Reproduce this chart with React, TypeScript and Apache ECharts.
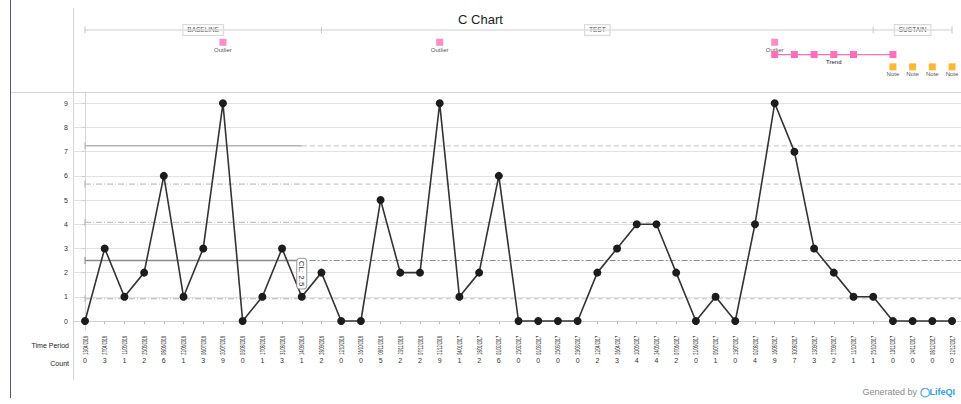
import React, { useEffect, useRef } from "react";
import * as echarts from "echarts";

const dates = [
  "13/04/2016", "27/04/2016", "11/05/2016", "25/05/2016", "08/06/2016", "22/06/2016",
  "06/07/2016", "20/07/2016", "03/08/2016", "17/08/2016", "31/08/2016", "14/09/2016",
  "28/09/2016", "12/10/2016", "26/10/2016", "09/11/2016", "23/11/2016", "07/12/2016",
  "21/12/2016", "04/01/2017", "18/01/2017", "01/02/2017", "15/02/2017", "01/03/2017",
  "15/03/2017", "29/03/2017", "12/04/2017", "26/04/2017", "10/05/2017", "24/05/2017",
  "07/06/2017", "21/06/2017", "05/07/2017", "19/07/2017", "02/08/2017", "16/08/2017",
  "30/08/2017", "13/09/2017", "27/09/2017", "11/10/2017", "25/10/2017", "10/11/2017",
  "24/11/2017", "08/12/2017", "22/12/2017",
];
const counts = [
  0, 3, 1, 2, 6, 1, 3, 9, 0, 1, 3, 1, 2, 0, 0, 5, 2, 2, 9, 1, 2, 6, 0,
  0, 0, 0, 2, 3, 4, 4, 2, 0, 1, 0, 4, 9, 7, 3, 2, 1, 1, 0, 0, 0, 0,
];
const yTicks = [0, 1, 2, 3, 4, 5, 6, 7, 8, 9];

const phaseNames = ["BASELINE", "TEST", "SUSTAIN"];
const phaseBounds = [0, 12, 40, 44];

const outlierIdx = [7, 18, 35];
const trendIdx = [35, 36, 37, 38, 39, 41];
const trendLabelIdx = 38;
const noteIdx = [41, 42, 43, 44];

const limitNames = ["UCL", "+2σ", "+1σ", "CL", "-1σ"];
const limitValues = [7.24, 5.66, 4.08, 2.5, 0.92];
const baselineEnd = 11;

const annotationRows = ["phase", "outlier", "trend", "note"];

const FONT = "Liberation Sans, Arial, sans-serif";
const PINK = "#ff6eb9";
const ORANGE = "#ffa500";

export default function App() {
  const ref = useRef<HTMLDivElement>(null);

  useEffect(() => {
    document.body.style.margin = "0";
    if (!ref.current) return;
    const chart = echarts.init(ref.current, null, { renderer: "svg" });

    const xMin = -0.609;
    const xMax = 44.455;
    const idxAll = dates.map((_, i) => i);
    const clValue = limitValues[limitNames.indexOf("CL")];

    const limitSeries: any[] = [];
    limitNames.forEach((name, k) => {
      const v = limitValues[k];
      const isCL = name === "CL";
      const isUCL = name === "UCL";
      limitSeries.push({
        name: name + " baseline",
        type: "line",
        xAxisIndex: 0,
        yAxisIndex: 0,
        silent: true,
        z: 1,
        data: [
          { value: [0, v], symbol: "rect", symbolSize: [1, 7] },
          { value: [baselineEnd, v], symbol: "none" },
        ],
        showAllSymbol: true,
        lineStyle: {
          color: isCL ? "#8a8a8a" : "#b4b4b4",
          width: isCL || isUCL ? 1.5 : 1,
          type: isCL || isUCL ? "solid" : [6, 2, 1, 2],
        },
        itemStyle: { color: isCL ? "#8a8a8a" : "#b4b4b4" },
      });
      limitSeries.push({
        name: name + " ext",
        type: "line",
        xAxisIndex: 0,
        yAxisIndex: 0,
        silent: true,
        z: 1,
        symbol: "none",
        data: [
          [isCL ? baselineEnd + 0.4 : baselineEnd, v],
          [xMax, v],
        ],
        lineStyle: {
          color: isCL ? "#8a8a8a" : "#c4c4c4",
          width: 1,
          type: isCL ? [6, 2, 2, 2] : [5, 3],
        },
      });
    });

    const option: any = {
      animation: false,
      textStyle: { fontFamily: FONT },
      title: {
        text: "C Chart",
        left: "center",
        top: 8,
        textStyle: { fontSize: 13, fontWeight: "normal", color: "#222", fontFamily: FONT },
      },
      grid: [
        { left: 73, right: 0, top: 92, height: 238 },
        { left: 73, right: 0, top: 23.8, height: 49.2 },
      ],
      xAxis: [
        {
          gridIndex: 0,
          type: "value",
          min: xMin,
          max: xMax,
          axisLine: { show: true, lineStyle: { color: "#cfcfcf" } },
          axisTick: { show: true, customValues: idxAll, length: 3, lineStyle: { color: "#bbb" } },
          axisLabel: { show: false },
          splitLine: { show: false },
        },
        {
          gridIndex: 0,
          type: "value",
          min: xMin,
          max: xMax,
          position: "bottom",
          offset: 24,
          axisLine: { show: false },
          axisTick: { show: false },
          splitLine: { show: false },
          axisLabel: {
            customValues: idxAll,
            formatter: (v: number) => String(counts[Math.round(v)]),
            fontSize: 7,
            color: "#333",
            margin: 3,
            fontFamily: FONT,
          },
        },
        {
          gridIndex: 1,
          type: "value",
          min: xMin,
          max: xMax,
          show: false,
        },
      ],
      yAxis: [
        {
          gridIndex: 0,
          type: "value",
          min: -0.372,
          max: 9.467,
          axisLine: { show: true, lineStyle: { color: "#d5d5d5" } },
          axisTick: { show: true, customValues: yTicks, length: 3, lineStyle: { color: "#ccc" } },
          axisLabel: {
            customValues: yTicks,
            fontSize: 7,
            color: "#333",
            margin: 5,
            fontFamily: FONT,
          },
          splitLine: { show: true, lineStyle: { color: "#e2e2e2", width: 1 } },
        },
        {
          gridIndex: 1,
          type: "category",
          data: annotationRows,
          inverse: true,
          show: false,
        },
      ],
      graphic: [
        {
          type: "line",
          shape: { x1: 10.5, y1: 0, x2: 10.5, y2: 398 },
          style: { stroke: "#4a5a80", lineWidth: 1 },
          silent: true,
        },
        {
          type: "line",
          shape: { x1: 73.5, y1: 8, x2: 73.5, y2: 380 },
          style: { stroke: "#d5d5d5", lineWidth: 1 },
          silent: true,
        },
        {
          type: "line",
          shape: { x1: 11, y1: 92.5, x2: 961, y2: 92.5 },
          style: { stroke: "#d5d5d5", lineWidth: 1 },
          silent: true,
        },
        {
          type: "text",
          x: 69,
          y: 345,
          style: { text: "Time Period", fontSize: 7, fill: "#222", align: "right", verticalAlign: "middle", fontFamily: FONT },
        },
        {
          type: "text",
          x: 69,
          y: 363,
          style: { text: "Count", fontSize: 7, fill: "#222", align: "right", verticalAlign: "middle", fontFamily: FONT },
        },
        {
          type: "text",
          x: 955,
          y: 392,
          style: {
            text: "{g|Generated by }{o|◯}{l|LifeQI}",
            align: "right",
            verticalAlign: "middle",
            rich: {
              g: { fontSize: 9, fill: "#8a8a8a", fontFamily: FONT },
              o: { fontSize: 9, fill: "#2a9df4", fontWeight: "bold", fontFamily: FONT },
              l: { fontSize: 9, fill: "#2a9df4", fontWeight: "bold", fontFamily: FONT },
            },
          },
        },
      ],
      series: [
        ...limitSeries,
        {
          name: "CL label",
          type: "custom",
          xAxisIndex: 0,
          yAxisIndex: 0,
          clip: false,
          silent: true,
          z: 6,
          data: [[baselineEnd, clValue]],
          encode: { x: 0, y: 1 },
          renderItem: (params: any, api: any) => {
            const p = api.coord([api.value(0), api.value(1)]);
            return {
              type: "text",
              x: p[0],
              y: p[1] + 13,
              rotation: -Math.PI / 2,
              style: {
                text: "CL: " + api.value(1),
                fontSize: 8,
                fill: "#333",
                align: "center",
                verticalAlign: "middle",
                fontFamily: FONT,
                backgroundColor: "#fff",
                borderColor: "#999",
                borderWidth: 1,
                borderRadius: 3,
                padding: [1, 2, 0, 2],
              },
            };
          },
        },
        {
          name: "Count",
          type: "line",
          xAxisIndex: 0,
          yAxisIndex: 0,
          z: 5,
          data: counts.map((c, i) => [i, c]),
          symbol: "circle",
          symbolSize: 8,
          showAllSymbol: true,
          lineStyle: { color: "#333", width: 1.6 },
          itemStyle: { color: "#1c1c1c" },
        },
        {
          name: "Time Period",
          type: "custom",
          xAxisIndex: 0,
          yAxisIndex: 0,
          clip: false,
          silent: true,
          data: dates.map((_, i) => [i, 0]),
          encode: { x: 0, y: 1 },
          renderItem: (params: any, api: any) => {
            const i = api.value(0);
            const p = api.coord([i, 0]);
            const cs = params.coordSys;
            return {
              type: "text",
              x: p[0],
              y: cs.y + cs.height + 6,
              rotation: Math.PI / 2,
              scaleX: 0.5,
              style: {
                text: dates[i],
                fontSize: 7.5,
                fill: "#222",
                align: "right",
                verticalAlign: "middle",
                fontFamily: FONT,
              },
            };
          },
        },
        {
          name: "Phases",
          type: "line",
          xAxisIndex: 2,
          yAxisIndex: 1,
          silent: true,
          data: phaseBounds.map((b) => [b, "phase"]),
          symbol: "rect",
          symbolSize: [1, 7],
          showAllSymbol: true,
          lineStyle: { color: "#dedede", width: 1.5 },
          itemStyle: { color: "#c8c8c8" },
        },
        {
          name: "Phase labels",
          type: "scatter",
          xAxisIndex: 2,
          yAxisIndex: 1,
          silent: true,
          symbolSize: 1,
          itemStyle: { color: "rgba(0,0,0,0)" },
          data: phaseNames.map((n, k) => ({
            value: [(phaseBounds[k] + phaseBounds[k + 1]) / 2, "phase"],
            name: n,
          })),
          label: {
            show: true,
            position: "inside",
            formatter: "{b}",
            fontSize: 6.5,
            color: "#222",
            fontFamily: FONT,
            backgroundColor: "#fff",
            borderColor: "#cfcfcf",
            borderWidth: 1,
            padding: [2, 4, 1, 4],
          },
        },
        {
          name: "Outlier",
          type: "scatter",
          xAxisIndex: 2,
          yAxisIndex: 1,
          silent: true,
          symbol: "rect",
          symbolSize: 7,
          itemStyle: { color: PINK },
          data: outlierIdx.map((i) => [i, "outlier"]),
          label: {
            show: true,
            position: "bottom",
            distance: 1,
            formatter: "Outlier",
            fontSize: 6,
            color: "#222",
            fontFamily: FONT,
          },
        },
        {
          name: "Trend",
          type: "line",
          xAxisIndex: 2,
          yAxisIndex: 1,
          silent: true,
          symbol: "rect",
          symbolSize: 7,
          showAllSymbol: true,
          lineStyle: { color: PINK, width: 1.2 },
          itemStyle: { color: PINK },
          data: trendIdx.map((i) => ({
            value: [i, "trend"],
            label: {
              show: i === trendLabelIdx,
              position: "bottom",
              distance: 1,
              formatter: "Trend",
              fontSize: 6,
              color: "#222",
              fontFamily: FONT,
            },
          })),
        },
        {
          name: "Note",
          type: "scatter",
          xAxisIndex: 2,
          yAxisIndex: 1,
          silent: true,
          symbol: "rect",
          symbolSize: 7,
          itemStyle: { color: ORANGE },
          data: noteIdx.map((i) => [i, "note"]),
          label: {
            show: true,
            position: "bottom",
            distance: 1,
            formatter: "Note",
            fontSize: 6,
            color: "#222",
            fontFamily: FONT,
          },
        },
      ],
    };

    chart.setOption(option);
    return () => chart.dispose();
  }, []);

  return <div ref={ref} style={{ width: 961, height: 404 }} />;
}
